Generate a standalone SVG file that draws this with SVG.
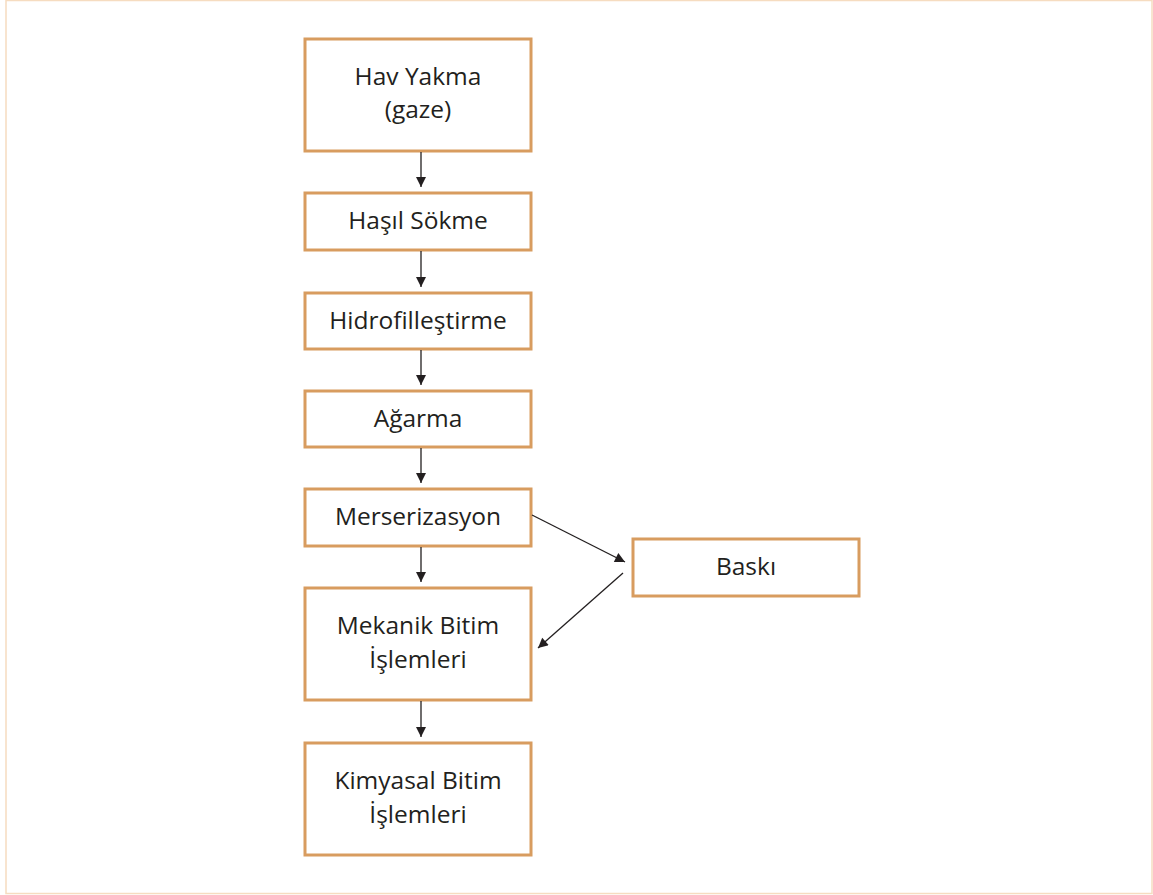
<svg xmlns="http://www.w3.org/2000/svg" width="1153" height="895" viewBox="0 0 1153 895">
  <style>
    .box { fill: #ffffff; stroke: #d89c5f; stroke-width: 3; }
    .lbl { font-family: "Open Sans", "Noto Sans", "Liberation Sans", sans-serif; font-size: 24.5px; fill: #231f20; text-anchor: middle; }
    .conn { stroke: #231f20; stroke-width: 1.3; fill: none; marker-end: url(#arrow); }
  </style>
  <defs>
    <marker id="arrow" viewBox="0 0 10 10" refX="10" refY="5" markerWidth="12" markerHeight="10" markerUnits="userSpaceOnUse" orient="auto">
      <path d="M0,0 L10,5 L0,10 z" fill="#231f20"/>
    </marker>
  </defs>

  <!-- page frame -->
  <rect x="6" y="0.5" width="1146" height="893" fill="#ffffff" stroke="#f6dcc0" stroke-width="1.5"/>

  <g id="hav-yakma">
    <rect class="box" x="305" y="39" width="226" height="112"/>
    <text class="lbl" x="418" y="85">Hav Yakma</text>
    <text class="lbl" x="418" y="118">(gaze)</text>
  </g>
  <g id="hasil-sokme">
    <rect class="box" x="305" y="193" width="226" height="57"/>
    <text class="lbl" x="418" y="229">Haşıl Sökme</text>
  </g>
  <g id="hidrofillestirme">
    <rect class="box" x="305" y="293" width="226" height="56"/>
    <text class="lbl" x="418" y="329">Hidrofilleştirme</text>
  </g>
  <g id="agarma">
    <rect class="box" x="305" y="391" width="226" height="56"/>
    <text class="lbl" x="418" y="427">Ağarma</text>
  </g>
  <g id="merserizasyon">
    <rect class="box" x="305" y="489" width="226" height="57"/>
    <text class="lbl" x="418" y="525">Merserizasyon</text>
  </g>
  <g id="mekanik">
    <rect class="box" x="305" y="588" width="226" height="112"/>
    <text class="lbl" x="418" y="634">Mekanik Bitim</text>
    <text class="lbl" x="418" y="668">İşlemleri</text>
  </g>
  <g id="kimyasal">
    <rect class="box" x="305" y="743" width="226" height="112"/>
    <text class="lbl" x="418" y="789">Kimyasal Bitim</text>
    <text class="lbl" x="418" y="823">İşlemleri</text>
  </g>
  <g id="baski">
    <rect class="box" x="633" y="539" width="226" height="57"/>
    <text class="lbl" x="746" y="575">Baskı</text>
  </g>

  <g id="connectors">
    <line class="conn" x1="421" y1="152" x2="421" y2="187"/>
    <line class="conn" x1="421" y1="251" x2="421" y2="287"/>
    <line class="conn" x1="421" y1="350" x2="421" y2="385"/>
    <line class="conn" x1="421" y1="448" x2="421" y2="483"/>
    <line class="conn" x1="421" y1="547" x2="421" y2="582"/>
    <line class="conn" x1="421" y1="701" x2="421" y2="737"/>
    <line class="conn" x1="532" y1="515" x2="625" y2="562"/>
    <line class="conn" x1="623" y1="573" x2="538" y2="648"/>
  </g>
</svg>
